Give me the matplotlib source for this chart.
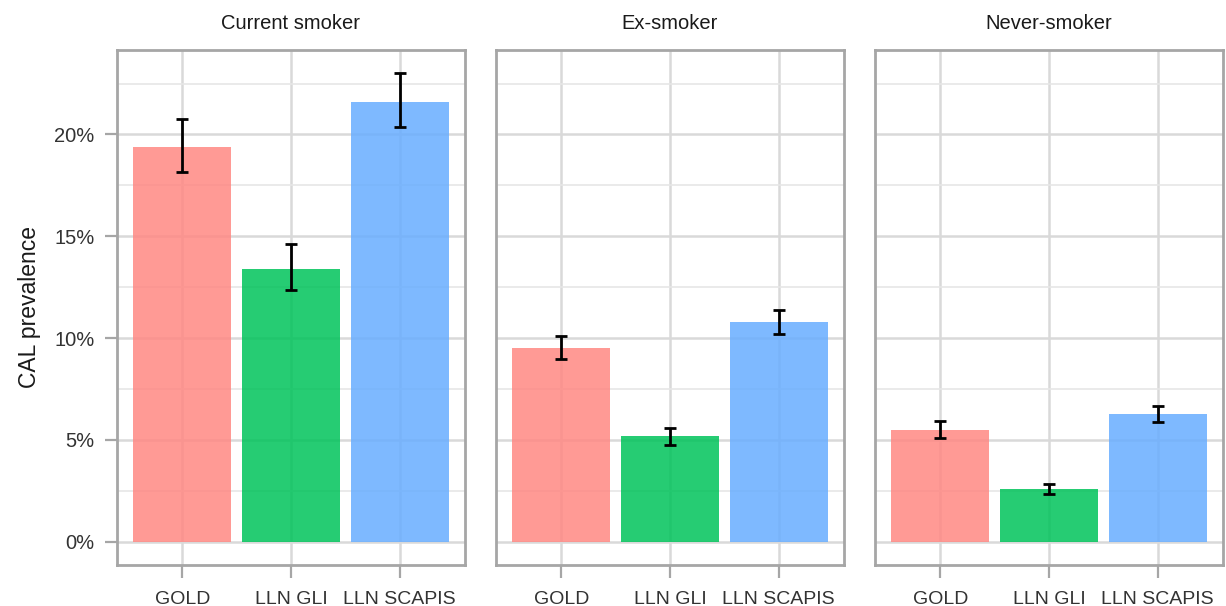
import numpy as np
import matplotlib
matplotlib.use("Agg")
import matplotlib.pyplot as plt
from matplotlib.ticker import FuncFormatter, MultipleLocator

plt.rcParams["font.family"] = ["Liberation Sans", "DejaVu Sans"]

# data (CAL prevalence, %)
groups = ["Current smoker", "Ex-smoker", "Never-smoker"]
methods = ["GOLD", "LLN GLI", "LLN SCAPIS"]
prevalence = {
    "Current smoker": [19.4, 13.4, 21.6],
    "Ex-smoker": [9.5, 5.2, 10.8],
    "Never-smoker": [5.5, 2.6, 6.25],
}
ci_low = {
    "Current smoker": [18.15, 12.35, 20.35],
    "Ex-smoker": [8.95, 4.75, 10.2],
    "Never-smoker": [5.1, 2.35, 5.85],
}
ci_high = {
    "Current smoker": [20.75, 14.6, 23.0],
    "Ex-smoker": [10.1, 5.6, 11.4],
    "Never-smoker": [5.9, 2.85, 6.65],
}
colors = ["#FF8883", "#00C35A", "#68ADFF"]

fig = plt.figure(figsize=(12.26, 6.06), dpi=100)
lefts = [0.0954, 0.4046, 0.7137]
bottom, height, width = 0.0677, 0.8498, 0.2838

x = np.arange(len(methods))
for i, (g, left) in enumerate(zip(groups, lefts)):
    ax = fig.add_axes([left, bottom, width, height])
    vals = np.array(prevalence[g])
    lo = vals - np.array(ci_low[g])
    hi = np.array(ci_high[g]) - vals

    ax.bar(x, vals, width=0.9, color=colors, alpha=0.85, zorder=2)
    ax.errorbar(x, vals, yerr=[lo, hi], fmt="none", ecolor="black",
                elinewidth=2, capsize=4.2, capthick=2, zorder=3)

    ax.set_xlim(-0.6, 2.6)
    ax.set_ylim(-1.15, 24.15)
    ax.yaxis.set_major_locator(MultipleLocator(5))
    ax.yaxis.set_minor_locator(MultipleLocator(2.5))
    ax.yaxis.set_major_formatter(FuncFormatter(lambda v, p: f"{v:.0f}%"))
    ax.set_xticks(x)
    ax.set_xticklabels(methods)

    ax.grid(which="major", color="#D9D9D9", linewidth=1.8, zorder=0)
    ax.grid(which="minor", axis="y", color="#E6E6E6", linewidth=1.2, zorder=0)
    ax.set_axisbelow(True)

    for s in ax.spines.values():
        s.set_color("#A6A6A6")
        s.set_linewidth(2)

    ax.tick_params(which="major", length=9, width=1.6, color="#A6A6A6",
                   labelsize=14, labelcolor="#333333", pad=7)
    ax.tick_params(axis="x", which="major", pad=10)
    ax.tick_params(which="minor", length=0)
    if i > 0:
        ax.tick_params(axis="y", which="major", length=0, labelleft=False)
    else:
        ax.tick_params(axis="y", labelsize=14.5)
        ax.set_ylabel("CAL prevalence", fontsize=16.5, color="#1A1A1A", labelpad=10)

    ax.set_title(g, fontsize=14.5, color="#1A1A1A", pad=15)

fig.savefig("out.png", dpi=100)
